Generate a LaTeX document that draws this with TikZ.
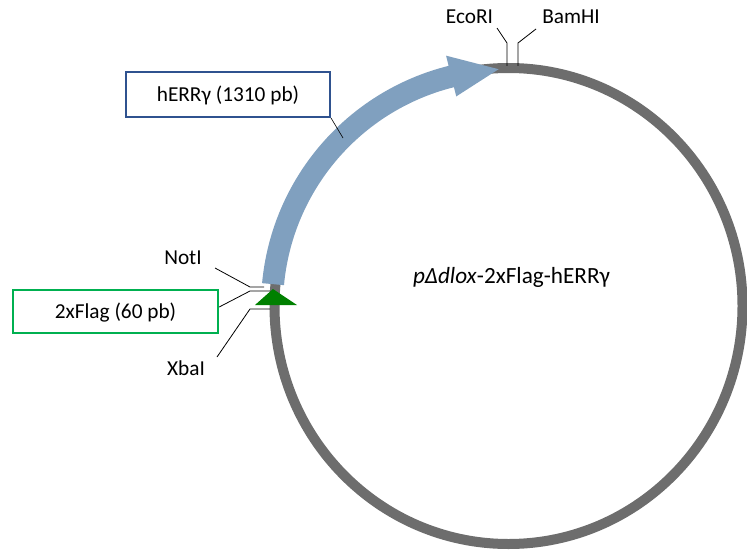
\documentclass[tikz,border=0pt]{standalone}
\usepackage{fontspec}
\setmainfont{Carlito}
\usetikzlibrary{calc}
\definecolor{ringgray}{RGB}{109,109,109}
\definecolor{genblue}{RGB}{128,160,191}
\definecolor{boxblue}{RGB}{47,82,143}
\definecolor{boxgreen}{RGB}{0,176,80}
\definecolor{tagGreen}{RGB}{0,128,0}
\begin{document}
\begin{tikzpicture}[x=1pt,y=1pt,
  font=\fontsize{21.3}{25}\selectfont,
  lbl/.style={inner sep=0pt, text=black},
  labelbox/.style={draw, line width=2pt, fill=white, inner sep=0pt,
     text height=13.6pt, text depth=0pt},
  lead/.style={draw=black, line width=0.8pt}]
\useasboundingbox (0,0) rectangle (747,-551);
\coordinate (c) at (508.5,-306);
% plasmid ring
\draw[ringgray, line width=10pt] (c) ellipse [x radius=234, y radius=238];
% hERRgamma arrow
\fill[genblue] ($(c)+(174.7:225.5)$) arc[start angle=174.7, end angle=104, radius=225.5]
   -- ($(c)+(104:216)$) -- ($(c)+(92.4:237)$) -- ($(c)+(104:258)$)
   -- ($(c)+(104:247.5)$) arc[start angle=104, end angle=174.7, radius=247.5] -- cycle;
% 2xFlag tag
\fill[tagGreen] (273,-289) -- (297,-305) -- (255,-305) -- cycle;
% boxes
\node[labelbox, draw=boxblue, minimum width=204pt, minimum height=45pt] (herr) at (228,-94.5) {hERRγ (1310 pb)};
\node[labelbox, draw=boxgreen, line width=2.4pt, minimum width=205pt, minimum height=43pt] (flag) at (115.5,-311.5) {2xFlag (60 pb)};
% restriction labels
\node[lbl] (eco) at (469.5,-16.5) {EcoRI};
\node[lbl] (bam) at (571,-16.5) {BamHI};
\node[lbl] (not) at (183,-258) {NotI};
\node[lbl] (xba) at (186,-368) {XbaI};
\node[lbl, anchor=base, font=\fontsize{23.2}{27}\selectfont] (name) at (511.5,-283) {\textit{pΔdlox}-2xFlag-hERRγ};
% leader coordinates
\coordinate (e1) at (497,-28); \coordinate (e2) at (507,-43); \coordinate (e3) at (507,-66);
\coordinate (b1) at (536,-29); \coordinate (b2) at (518,-43); \coordinate (b3) at (518,-66);
\coordinate (n1) at (215,-268); \coordinate (n2) at (250,-287); \coordinate (n3) at (264,-287);
\coordinate (f1) at (flag.east |- 0,-307); \coordinate (f2) at (250,-291); \coordinate (f3) at (270,-291);
\coordinate (x1) at (217,-357); \coordinate (x2) at (250,-309); \coordinate (x3) at (270,-309);
\coordinate (h1) at (343,-138);
% leaders
\draw[lead] (e1) -- (e2) -- (e3);
\draw[lead] (b1) -- (b2) -- (b3);
\draw[lead] (n1) -- (n2) -- (n3);
\draw[lead] (f1) -- (f2) -- (f3);
\draw[lead] (x1) -- (x2) -- (x3);
\draw[lead, line width=0.6pt] (herr.south east) -- (h1);
\end{tikzpicture}
\end{document}
